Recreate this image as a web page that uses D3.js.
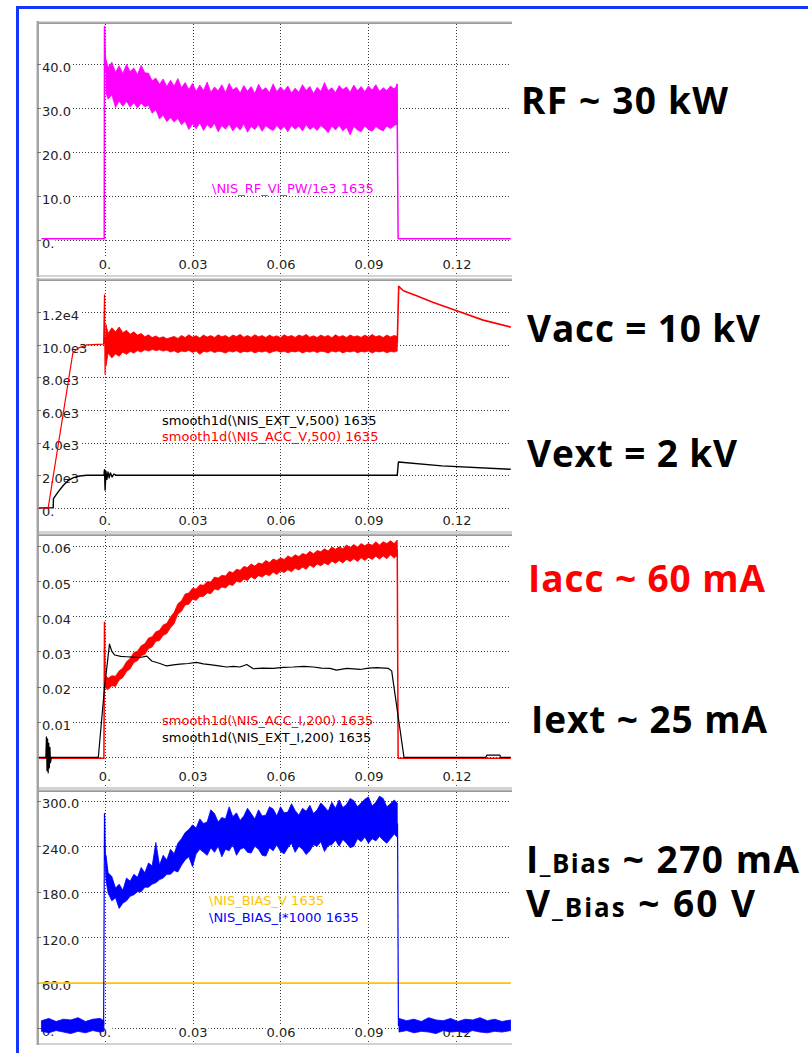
<!DOCTYPE html>
<html><head><meta charset="utf-8">
<script src="https://cdn.jsdelivr.net/npm/d3@7"></script>
<style>body{margin:0;background:#fff}svg{display:block}</style>
</head><body>
<svg id="c" width="808" height="1053"></svg>
<script>
// ---------------- DATA ----------------
const xTickValues = [0, 0.03, 0.06, 0.09, 0.12];
const xTickLabels = ["0.", "0.03", "0.06", "0.09", "0.12"];

const rfTickValues = [0, 10, 20, 30, 40];
const rfTickLabels = ["0.", "10.0", "20.0", "30.0", "40.0"];
const vTickValues = [0, 2000, 4000, 6000, 8000, 10000, 12000];
const vTickLabels = ["0.", "2.0e3", "4.0e3", "6.0e3", "8.0e3", "10.0e3", "1.2e4"];
const iTickValues = [0, 0.01, 0.02, 0.03, 0.04, 0.05, 0.06];
const iTickLabels = ["", "0.01", "0.02", "0.03", "0.04", "0.05", "0.06"];
const bTickValues = [0, 60, 120, 180, 240, 300];
const bTickLabels = ["0.", "60.0", "120.0", "180.0", "240.0", "300.0"];

// sample times of the noisy pulse envelopes (s)
const bandT = [
  0.0005,0.00125,0.0025,0.00375,0.005,0.00625,0.0075,0.00875,0.01,
  0.01125,0.0125,0.01375,0.015,0.01625,0.0175,0.01875,0.02,0.02125,
  0.0225,0.02375,0.025,0.02625,0.0275,0.02875,0.03,0.03125,0.0325,
  0.03375,0.035,0.03625,0.0375,0.03875,0.04,0.04125,0.0425,0.04375,
  0.045,0.04625,0.0475,0.04875,0.05,0.05125,0.0525,0.05375,0.055,
  0.05625,0.0575,0.05875,0.06,0.06125,0.0625,0.06375,0.065,0.06625,
  0.0675,0.06875,0.07,0.07125,0.0725,0.07375,0.075,0.07625,0.0775,
  0.07875,0.08,0.08125,0.0825,0.08375,0.085,0.08625,0.0875,0.08875,
  0.09,0.09125,0.0925,0.09375,0.095,0.09625,0.0975,0.09875,0.0998];

// RF power (kW)
const rfOnT = [-0.0215, -0.0001, 0.0, 0.0004];
const rfOn  = [0.3, 0.3, 48.5, 38.0];
const rfMax = [
  41.0,39.2,40.4,38.1,39.6,37.8,39.9,38.3,39.1,
  37.6,39.7,38.0,37.9,36.2,36.8,35.4,36.6,34.9,
  36.3,35.0,36.7,34.6,35.8,34.2,35.6,33.8,35.2,
  34.0,35.9,33.6,34.8,33.9,35.3,33.5,35.6,34.1,
  34.7,33.4,35.1,33.8,34.9,33.3,35.4,34.0,34.6,
  33.5,35.5,33.7,34.8,33.9,35.0,33.4,34.5,33.6,
  35.3,34.0,34.9,33.3,34.7,33.8,35.8,33.9,34.6,
  33.5,35.1,34.2,34.8,33.6,35.2,33.9,34.9,33.7,
  35.0,34.1,35.3,33.8,34.6,34.0,35.0,34.3,35.3];
const rfMin = [
  33.5,32.0,33.0,30.1,31.6,30.4,31.5,30.2,31.2,
  30.0,31.1,30.3,30.6,28.8,29.6,27.5,28.4,26.9,
  27.8,26.8,27.6,26.2,27.0,25.1,26.4,25.3,26.6,
  24.9,26.2,25.4,26.5,24.6,26.0,25.2,26.3,24.8,
  25.9,25.0,26.4,24.5,25.8,25.1,26.2,24.7,26.0,
  25.3,24.9,26.1,25.0,25.8,24.6,26.0,25.2,25.9,
  24.8,26.2,25.1,25.7,24.9,26.0,25.3,24.4,25.9,
  25.0,26.1,24.8,25.6,23.9,25.8,25.0,24.6,25.9,
  25.1,24.7,25.8,25.2,24.8,25.9,25.3,26.0,26.3];
const rfOffT = [0.0997, 0.1001, 0.1002, 0.1385];
const rfOff  = [35.5, 0.3, 0.3, 0.3];

// Extraction voltage (V)
const vextT = [-0.0226,-0.0175,-0.0174,-0.0158,-0.0140,-0.0123,-0.0106,-0.0084,-0.0061,-0.0002,0.0,0.0002,0.0005,0.0008,0.0012,0.0016,0.002,0.0026,0.0032,0.004,0.0998,0.1002,0.115,0.1385];
const vext  = [0,0,570,980,1390,1695,1860,1960,2000,2000,2350,1100,2250,1750,2200,1850,2150,1900,2080,2000,2000,2820,2580,2370];

// Acceleration voltage (V)
const vaccOnT = [-0.0226,-0.0192,-0.0108,-0.009,-0.006,-0.0003,0.0,0.0002,0.0004];
const vaccOn  = [0,0,9500,9800,10000,10050,13070,8220,10500];
const vaccMax = [
  11250,10700,11050,10800,11100,10750,10900,10650,10800,
  10600,10700,10500,10620,10450,10550,10420,10500,10380,
  10450,10520,10400,10580,10450,10620,10480,10560,10430,
  10600,10480,10570,10450,10620,10500,10580,10440,10600,
  10520,10640,10470,10580,10460,10620,10500,10570,10450,
  10600,10480,10560,10440,10620,10500,10580,10460,10600,
  10520,10640,10470,10560,10450,10600,10500,10580,10440,
  10620,10490,10570,10450,10610,10500,10560,10460,10600,
  10480,10640,10500,10570,10450,10600,10490,10580,10520];
const vaccMin = [
  8700,9500,9200,9450,9300,9550,9420,9600,9500,
  9650,9560,9700,9620,9720,9650,9700,9620,9680,
  9560,9640,9520,9620,9580,9660,9540,9620,9420,
  9600,9560,9640,9530,9610,9580,9500,9620,9560,
  9640,9520,9600,9570,9630,9510,9600,9560,9620,
  9500,9590,9640,9550,9610,9520,9600,9570,9630,
  9500,9600,9560,9620,9530,9610,9580,9500,9620,
  9560,9630,9510,9600,9570,9620,9520,9600,9560,
  9630,9500,9610,9570,9620,9520,9600,9560,9620];
const vaccOffT = [0.0998,0.1003,0.1019,0.1064,0.1121,0.1201,0.1291,0.1385];
const vaccOff  = [10100,13600,13320,13010,12600,12090,11520,11090];

// Acceleration current (A)
const iaccOnT = [-0.0226,-0.0002,0.0,0.0002,0.0005];
const iaccOn  = [-0.0003,-0.0003,0.0383,0.0197,0.021];
const iaccMax = [
  0.0230,0.0224,0.0231,0.0230,0.0245,0.0253,0.0271,0.0280,0.0297,
  0.0301,0.0316,0.0322,0.0338,0.0342,0.0356,0.0360,0.0375,0.0380,
  0.0398,0.0411,0.0435,0.0444,0.0463,0.0466,0.0479,0.0477,0.0489,
  0.0488,0.0498,0.0497,0.0511,0.0508,0.0516,0.0514,0.0527,0.0523,
  0.0533,0.0530,0.0541,0.0538,0.0548,0.0542,0.0551,0.0548,0.0558,
  0.0552,0.0562,0.0558,0.0565,0.0561,0.0571,0.0566,0.0574,0.0569,
  0.0578,0.0574,0.0584,0.0577,0.0586,0.0583,0.0591,0.0585,0.0596,
  0.0590,0.0597,0.0591,0.0602,0.0595,0.0603,0.0596,0.0606,0.0600,
  0.0606,0.0601,0.0611,0.0602,0.0611,0.0606,0.0614,0.0606,0.0616];
const iaccMin = [
  0.0195,0.0192,0.0203,0.0201,0.0219,0.0226,0.0243,0.0251,0.0269,
  0.0274,0.0288,0.0292,0.0308,0.0313,0.0329,0.0331,0.0346,0.0351,
  0.0367,0.0379,0.0406,0.0414,0.0432,0.0434,0.0448,0.0445,0.0456,
  0.0456,0.0466,0.0464,0.0477,0.0474,0.0483,0.0480,0.0490,0.0487,
  0.0499,0.0496,0.0505,0.0501,0.0512,0.0505,0.0515,0.0511,0.0519,
  0.0515,0.0525,0.0518,0.0528,0.0524,0.0532,0.0526,0.0536,0.0531,
  0.0539,0.0533,0.0545,0.0538,0.0548,0.0543,0.0551,0.0545,0.0556,
  0.0550,0.0558,0.0551,0.0561,0.0555,0.0563,0.0555,0.0566,0.0558,
  0.0567,0.0561,0.0570,0.0562,0.0571,0.0563,0.0574,0.0565,0.0572];
const iaccOffT = [0.0998,0.1001,0.1385];
const iaccOff  = [0.059,-0.0003,-0.0003];

// Extraction current (A)
const iextT = [-0.0225,-0.0200,-0.0198,-0.0196,-0.0194,-0.0192,-0.0190,-0.0188,-0.0186,-0.0184,-0.0181,-0.0021,0.0,0.0017,0.0025,0.0035,0.0055,0.0075,0.0095,0.012,0.0144,0.0161,0.0189,0.0212,0.0235,0.0257,0.0285,0.0314,0.0337,0.0359,0.039,0.0416,0.044,0.0462,0.0485,0.0507,0.054,0.0575,0.061,0.0643,0.068,0.0712,0.074,0.0769,0.0791,0.0826,0.0871,0.09,0.0928,0.0968,0.0979,0.1021,0.13,0.1303,0.1348,0.135,0.1385];
const iext  = [0,0,0.0058,-0.0038,0.0052,-0.0044,0.0040,-0.0030,0.0028,-0.0015,0,0,0.0197,0.0321,0.0300,0.0290,0.0286,0.0285,0.0284,0.0283,0.0287,0.0273,0.0266,0.0259,0.0262,0.0264,0.0266,0.0269,0.0265,0.0263,0.0259,0.0256,0.0258,0.0256,0.0263,0.0251,0.0253,0.0252,0.0255,0.0256,0.0258,0.0256,0.0253,0.0252,0.0247,0.0252,0.0249,0.0253,0.0254,0.0252,0.0245,0,0,0.0006,0.0006,0,0];

// Bias voltage (V)
const vbiasT = [-0.0226, 0.1385];
const vbias  = [59.5, 59.5];

// Bias current x1000 (mA)
const ibPreT   = [-0.0215,-0.019,-0.0165,-0.014,-0.0115,-0.009,-0.0065,-0.004,-0.0015,-0.0002];
const ibPreMax = [10,13,9,12,11,14,9,12,13,10];
const ibPreMin = [-4,-6,-3,-5,-7,-4,-6,-3,-5,-4];
const ibOnT = [-0.0003,0.0,0.0003,0.0006,0.0009];
const ibOn  = [3,283,226,200,195];
const ibMax = [
  228,205,200,185,190,182,198,194,203,
  199,212,205,218,214,245,215,228,222,
  236,230,244,250,258,262,268,264,276,
  270,272,288,283,272,278,276,292,279,
  284,274,280,290,283,276,288,280,281,
  292,289,280,292,284,285,296,287,281,
  290,286,294,283,288,297,292,286,298,
  290,301,291,295,303,300,292,297,302,
  305,293,298,306,303,292,296,301,297];
const ibMin = [
  195,178,168,172,158,165,168,174,176,
  180,180,186,186,190,192,196,198,203,
  203,208,206,215,222,226,213,230,236,
  232,228,238,232,240,226,236,234,242,
  228,236,238,232,231,240,236,228,227,
  238,234,242,233,230,238,244,232,240,
  236,229,234,242,240,246,233,241,242,
  248,240,249,244,238,240,250,246,252,
  244,250,247,253,248,244,250,256,252];
const ibOffT = [0.0999,0.1002];
const ibOff  = [270,3];
const ibPostT   = [0.1004,0.1030,0.1055,0.1080,0.1105,0.1130,0.1155,0.1180,0.1205,0.1230,0.1255,0.1280,0.1305,0.1330,0.1355,0.1385];
const ibPostMax = [13,10,12,9,14,11,10,13,9,12,11,14,10,12,9,11];
const ibPostMin = [-5,-3,-6,-4,-5,-7,-3,-5,-4,-6,-3,-5,-6,-4,-5,-3];

// legends and annotations
const legendRF   = ["\\NIS_RF_VI_PW/1e3 1635"];
const legendV    = ["smooth1d(\\NIS_EXT_V,500) 1635", "smooth1d(\\NIS_ACC_V,500) 1635"];
const legendI    = ["smooth1d(\\NIS_ACC_I,200) 1635", "smooth1d(\\NIS_EXT_I,200) 1635"];
const legendBias = ["\\NIS_BIAS_V 1635", "\\NIS_BIAS_I*1000 1635"];
const annotations = [
  [["RF ~ 30 kW", 1]],
  [["Vacc = 10 kV", 1]],
  [["Vext = 2 kV", 1]],
  [["Iacc ~ 60 mA", 1]],
  [["Iext ~ 25 mA", 1]],
  [["I", 1], ["_Bias", 0.7], [" ~ 270 mA", 1]],
  [["V", 1], ["_Bias", 0.7], [" ~ 60 V", 1]]
];

// ---------------- LAYOUT / STYLE ----------------
const W = 808, H = 1053;
const X0 = 39, X1 = 511;
const C = {mag:"#ff00ff", red:"#ff0000", blue:"#0000ff", gold:"#ffc400", black:"#000"};
const svg = d3.select("#c");
svg.append("rect").attr("width", W).attr("height", H).attr("fill", "#fff");

const x = d3.scaleLinear().domain([-0.02233, 0.13858]).range([X0, X1]);

const panels = [
  {top:24,  bottom:275,  domain:[-7.95, 49.09],      tv:rfTickValues, tl:rfTickLabels},
  {top:281, bottom:531,  domain:[-1417, 13920],      tv:vTickValues,  tl:vTickLabels},
  {top:536, bottom:787,  domain:[-0.00842, 0.06274], tv:iTickValues,  tl:iTickLabels},
  {top:792, bottom:1043, domain:[-19.4, 311.5],      tv:bTickValues,  tl:bTickLabels}
];

function bgLabel(sel){
  sel.each(function(){
    const t = d3.select(this).select("text");
    if(!t.text()) return;
    const b = t.node().getBBox();
    d3.select(this).insert("rect","text")
      .attr("x", b.x-1).attr("y", b.y).attr("width", b.width+2).attr("height", b.height)
      .attr("fill", "#fff");
  });
}

panels.forEach((p, i) => {
  const g = svg.append("g");
  p.y = d3.scaleLinear().domain(p.domain).range([p.bottom, p.top]);
  // frame
  g.append("rect").attr("x",36).attr("y",p.top-3).attr("width",476).attr("height",1).attr("fill","#d6d6d6");
  g.append("rect").attr("x",36).attr("y",p.top-2).attr("width",476).attr("height",1).attr("fill","#b2b2b2");
  g.append("rect").attr("x",36).attr("y",p.top-1).attr("width",476).attr("height",1).attr("fill","#9a9a9a");
  g.append("rect").attr("x",36).attr("y",p.bottom).attr("width",476).attr("height",2).attr("fill","#d2d2d2");
  g.append("rect").attr("x",36).attr("y",p.top-3).attr("width",1).attr("height",p.bottom-p.top+5).attr("fill","#d4d4d4");
  g.append("rect").attr("x",37).attr("y",p.top-3).attr("width",2).attr("height",p.bottom-p.top+5).attr("fill","#a4a4a4");

  // grid via axes
  const gy = g.append("g").attr("transform",`translate(${X0+1},0)`)
    .call(d3.axisRight(p.y).tickValues(p.tv).tickSize(X1-X0-1).tickFormat(""));
  const gx = g.append("g").attr("transform",`translate(0,${p.top})`)
    .call(d3.axisBottom(x).tickValues(xTickValues).tickSize(p.bottom-p.top).tickFormat(""));
  [gy, gx].forEach(a => {
    a.select(".domain").remove();
    a.selectAll("line").attr("stroke","#3a3a3a").attr("stroke-dasharray","1 2").attr("shape-rendering","crispEdges");
  });
  // small left tick marks
  g.append("g").selectAll("line").data(p.tv).join("line")
    .attr("x1",37).attr("x2",41).attr("y1",d=>Math.round(p.y(d))+0.5).attr("y2",d=>Math.round(p.y(d))+0.5)
    .attr("stroke","#777");

  // tick labels via axes
  const ly = g.append("g").attr("transform",`translate(${X0},0)`)
    .call(d3.axisRight(p.y).tickValues(p.tv).tickSize(0).tickPadding(3).tickFormat((d,k)=>p.tl[k]));
  const lx = g.append("g").attr("transform",`translate(0,${p.bottom})`)
    .call(d3.axisTop(x).tickValues(xTickValues).tickSize(0).tickPadding(6).tickFormat((d,k)=>xTickLabels[k]));
  [ly, lx].forEach(a => {
    a.attr("font-family","'DejaVu Sans', sans-serif").attr("font-size",13);
    a.select(".domain").remove();
    a.selectAll("text").attr("fill","#222");
  });
  ly.selectAll("text").attr("dy","0.55em");
  bgLabel(ly.selectAll(".tick"));
  bgLabel(lx.selectAll(".tick"));

  // clip
  svg.append("clipPath").attr("id","clip"+i).append("rect")
    .attr("x",X0).attr("y",p.top).attr("width",X1-X0).attr("height",p.bottom-p.top);
  p.data = g.append("g").attr("clip-path",`url(#clip${i})`);
  p.g = g;
});

function drawLine(p, T, V, color, w){
  const pts = T.map((t,k)=>[t, V[k]]);
  p.data.append("path").datum(pts)
    .attr("d", d3.line().x(d=>x(d[0])).y(d=>p.y(d[1])))
    .attr("fill","none").attr("stroke",color).attr("stroke-width",w||1.2).attr("stroke-linejoin","round");
}
function drawBand(p, T, MX, MN, color){
  const pts = T.map((t,k)=>[t, MX[k], MN[k]]);
  p.data.append("path").datum(pts)
    .attr("d", d3.area().x(d=>x(d[0])).y0(d=>p.y(d[2])).y1(d=>p.y(d[1])))
    .attr("fill",color).attr("stroke",color).attr("stroke-width",0.8).attr("stroke-linejoin","miter");
}
function legend(p, lines, colors, lx, by){
  lines.forEach((s,k)=>{
    p.g.append("text").attr("x",lx).attr("y",by[k]).text(s)
      .attr("font-family","'DejaVu Sans', sans-serif").attr("font-size",13).attr("fill",colors[k]);
  });
}

// Panel 1: RF
const P1 = panels[0];
drawLine(P1, rfOnT, rfOn, C.mag, 1.5);
drawBand(P1, bandT, rfMax, rfMin, C.mag);
drawLine(P1, rfOffT, rfOff, C.mag, 1.5);
legend(P1, legendRF, [C.mag], 212, [193]);

// Panel 2: voltages
const P2 = panels[1];
drawLine(P2, vextT, vext, C.black, 1.4);
drawLine(P2, vaccOnT, vaccOn, C.red, 1.2);
drawBand(P2, bandT, vaccMax, vaccMin, C.red);
drawLine(P2, vaccOffT, vaccOff, C.red, 1.6);
legend(P2, legendV, [C.black, C.red], 162, [425, 441]);

// Panel 3: currents
const P3 = panels[2];
drawLine(P3, iaccOnT, iaccOn, C.red, 1.5);
drawBand(P3, bandT, iaccMax, iaccMin, C.red);
drawLine(P3, iaccOffT, iaccOff, C.red, 1.5);
drawLine(P3, iextT, iext, C.black, 1.2);
legend(P3, legendI, [C.red, C.black], 162, [724.5, 742]);

// Panel 4: bias
const P4 = panels[3];
drawLine(P4, vbiasT, vbias, C.gold, 1.6);
drawBand(P4, ibPreT, ibPreMax, ibPreMin, C.blue);
drawLine(P4, ibOnT, ibOn, C.blue, 1.2);
drawBand(P4, bandT, ibMax, ibMin, C.blue);
drawLine(P4, ibOffT, ibOff, C.blue, 1.2);
drawBand(P4, ibPostT, ibPostMax, ibPostMin, C.blue);
legend(P4, legendBias, [C.gold, C.blue], 209, [904.5, 921.5]);

// outer blue frame
svg.append("rect").attr("x",16).attr("y",6).attr("width",3).attr("height",H-6).attr("fill","#1436ff");
svg.append("rect").attr("x",16).attr("y",6).attr("width",W-16).attr("height",3).attr("fill","#1436ff");

// right-side annotations
const annLayout = [
  {x:521, y:114, len:207, color:"#000"},
  {x:527, y:342, len:233, color:"#000"},
  {x:527, y:467, len:210, color:"#000"},
  {x:528, y:592, len:237, color:"#ff0000"},
  {x:531, y:733, len:236, color:"#000"},
  {x:526, y:873, len:273, color:"#000"},
  {x:526, y:917, len:229, color:"#000"}
];
const FS = 37;
annotations.forEach((parts, k) => {
  const L = annLayout[k];
  const t = svg.append("text").attr("x", L.x).attr("y", L.y)
    .attr("font-family","'Open Sans', 'Noto Sans', sans-serif").attr("font-weight",700)
    .attr("fill", L.color).attr("textLength", L.len).attr("lengthAdjust","spacing")
    .style("white-space","pre");
  parts.forEach(pt => t.append("tspan").attr("font-size", FS*pt[1]).text(pt[0]));
});
</script>
</body></html>
